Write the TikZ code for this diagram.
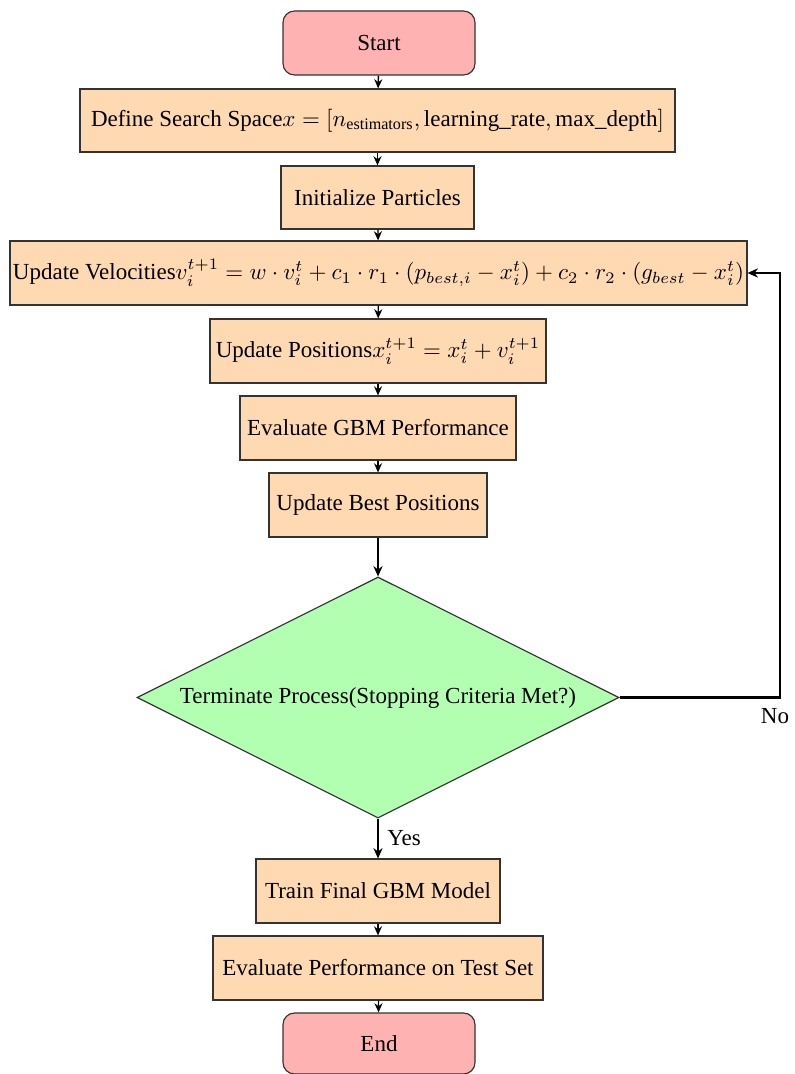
\documentclass[tikz,border=0pt]{standalone}
\usepackage{amsmath}
\usepackage[no-math]{fontspec}
\setmainfont{Liberation Serif}
\usetikzlibrary{shapes.geometric,arrows.meta}
\tikzset{
  sz/.style 2 args={minimum width=#1*0.435pt, minimum height=#2*0.435pt},
  proc/.style={draw=black!80, fill=orange!30, line width=0.5pt, inner sep=0pt, align=center, font=\fontsize{10}{12}\selectfont},
  term/.style={proc, fill=red!30, rounded corners=5pt},
  decision/.style={diamond, draw=black!80, fill=green!30, aspect=2, inner sep=0pt, line width=0.5pt, font=\fontsize{10}{12}\selectfont},
  arr/.style={-{Stealth[length=4pt,width=3.5pt]}, line width=0.6pt},
  thickarr/.style={-{Stealth[length=4.5pt,width=4pt]}, line width=1.1pt},
  lbl/.style={font=\fontsize{10}{12}\selectfont, inner sep=0pt},
}
\begin{document}
\begin{tikzpicture}[x=0.435pt, y=-0.435pt]
\useasboundingbox (0,0) rectangle (794,1074);
\node[term, sz={192}{64}] (start) at (379,43) {Start};
\node[proc, sz={595}{63}] (define) at (377.5,120.5) {Define Search Space$x = [n_{\text{estimators}}, \text{learning\_rate}, \text{max\_depth}]$};
\node[proc, sz={193}{63}] (init) at (377.5,197.5) {Initialize Particles};
\node[proc, sz={737}{64}] (vel) at (378.5,273) {Update Velocities$v_i^{t+1} = w \cdot v_i^t + c_1 \cdot r_1 \cdot (p_{best,i} - x_i^t) + c_2 \cdot r_2 \cdot (g_{best} - x_i^t)$};
\node[proc, sz={336}{64}] (pos) at (378,351) {Update Positions$x_i^{t+1} = x_i^t + v_i^{t+1}$};
\node[proc, sz={276}{64}] (eval) at (378,428) {Evaluate GBM Performance};
\node[proc, sz={218}{64}] (best) at (378,505) {Update Best Positions};
\node[decision, sz={482}{241}] (dec) at (378,697.5) {Terminate Process(Stopping Criteria Met?)};
\node[proc, sz={244}{64}] (train) at (378,891) {Train Final GBM Model};
\node[proc, sz={330}{64}] (test) at (378,968) {Evaluate Performance on Test Set};
\node[term, sz={192}{61}] (end) at (379,1043.5) {End};
\coordinate (turn) at (780,697.5);
\node[lbl] (no) at (775,716) {No};
\node[lbl] (yes) at (404,838) {Yes};

\draw[arr] (start) -- (define);
\draw[arr] (define) -- (init);
\draw[arr] (init) -- (vel);
\draw[arr] (vel) -- (pos);
\draw[arr] (pos) -- (eval);
\draw[arr] (eval) -- (best);
\draw[thickarr] (best) -- (dec);
\draw[thickarr] (dec) -- (train);
\draw[arr] (train) -- (test);
\draw[arr] (test) -- (end);
\draw[thickarr] (dec.east) -- (turn) |- (vel.east);
\end{tikzpicture}
\end{document}
